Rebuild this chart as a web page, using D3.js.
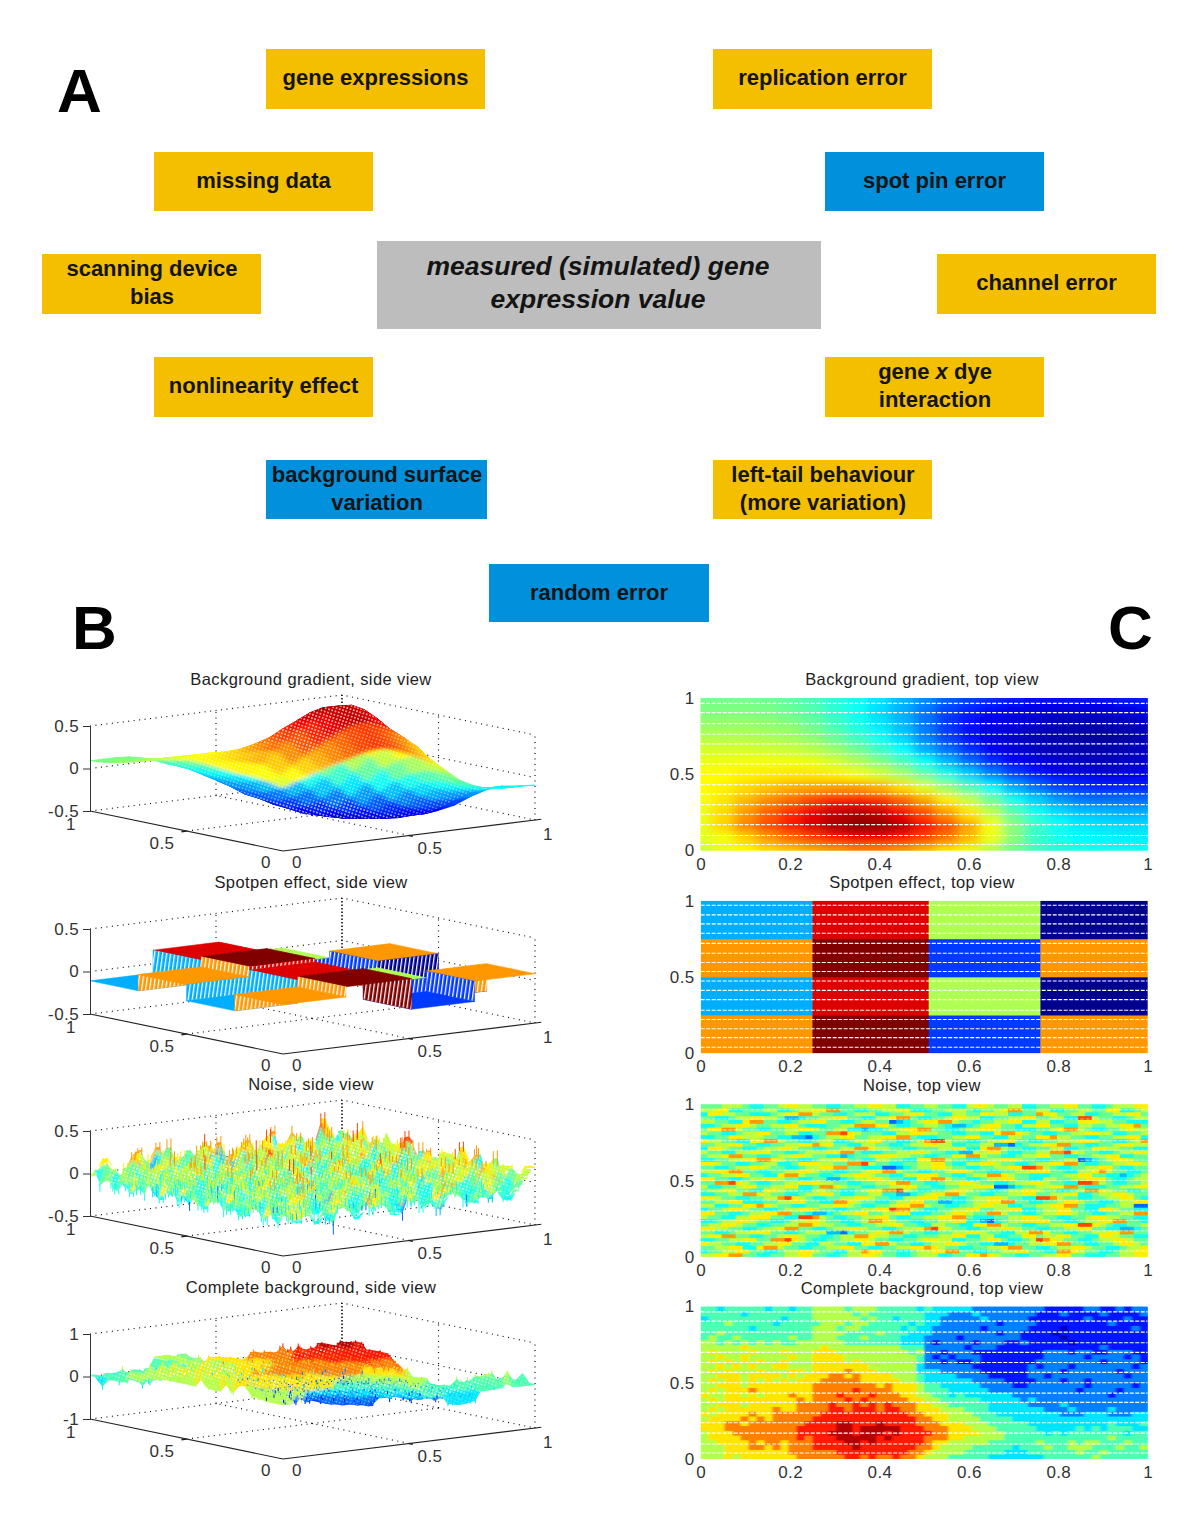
<!DOCTYPE html>
<html lang="en">
<head>
<meta charset="UTF-8">
<title>Simulated gene expression background</title>
<script src="https://d3js.org/d3.v7.min.js"></script>
<style>
  html, body { margin: 0; padding: 0; background: #fff; }
  svg { display: block; font-family: "Liberation Sans", Arial, sans-serif; }
  .tick-label { font-size: 17px; fill: #333; letter-spacing: 0.4px; }
  .plot-title { font-size: 16.5px; fill: #222; letter-spacing: 0.4px; text-anchor: middle; }
  .axis text { font-size: 17px; fill: #333; letter-spacing: 0.4px; font-family: "Liberation Sans", Arial, sans-serif; }
  .node-text { font-size: 22px; font-weight: bold; fill: #141414; text-anchor: middle; }
  .panel-letter { font-size: 62px; font-weight: bold; fill: #000; }
</style>
</head>
<body>
<div id="chart"></div>
<script>
// ---- panel A content
const nodeLines = [
  ["gene expressions"], ["replication error"], ["missing data"], ["spot pin error"],
  ["scanning device", "bias"], ["channel error"], ["nonlinearity effect"],
  ["gene x dye", "interaction"], ["background surface", "variation"],
  ["left-tail behaviour", "(more variation)"], ["random error"]
];
const nodeKinds = ["y", "y", "y", "b", "y", "y", "y", "y", "b", "y", "b"];
const centreLines = ["measured (simulated) gene", "expression value"];
const sideTitles = ["Background gradient, side view", "Spotpen effect, side view", "Noise, side view", "Complete background, side view"];
const topTitles = ["Background gradient, top view", "Spotpen effect, top view", "Noise, top view", "Complete background, top view"];

// ---- tick labels
const topXTicks = [0, 0.2, 0.4, 0.6, 0.8, 1];
const topYTicks = [0, 0.5, 1];
const floorTicks = [0, 0.5, 1];
const zTicksSmall = [-0.5, 0, 0.5];
const zTicksLarge = [-1, 0, 1];

// ---- background gradient, read from the top view. rows y=0 upward, columns x=0..1 step .05
const gradientRows = [
  [.24,.30,.34,.40,.44,.48,.52,.56,.56,.52,.46,.38,.30,.20,.08,0,-.05,-.07,-.08,-.08,-.09],
  [.28,.32,.42,.52,.60,.68,.76,.82,.82,.76,.68,.58,.46,.30,.12,-.02,-.08,-.12,-.13,-.14,-.14],
  [.30,.42,.56,.66,.78,.86,.95,1.0,.99,.92,.80,.66,.50,.32,.12,-.02,-.10,-.15,-.17,-.18,-.18],
  [.30,.40,.52,.62,.72,.83,.90,.94,.90,.80,.66,.52,.38,.22,.04,-.08,-.17,-.22,-.24,-.26,-.26],
  [.32,.38,.46,.54,.60,.68,.74,.76,.72,.62,.50,.37,.24,.08,-.08,-.20,-.30,-.36,-.38,-.38,-.38],
  [.34,.36,.40,.44,.48,.50,.52,.52,.48,.40,.28,.15,.02,-.12,-.26,-.38,-.46,-.50,-.52,-.52,-.52],
  [.34,.34,.36,.37,.38,.38,.36,.32,.26,.18,.06,-.06,-.20,-.34,-.46,-.54,-.60,-.62,-.64,-.64,-.62],
  [.30,.31,.32,.32,.31,.30,.26,.20,.12,.02,-.10,-.24,-.38,-.50,-.58,-.64,-.68,-.70,-.71,-.70,-.68],
  [.26,.26,.26,.25,.24,.21,.15,.08,-.02,-.12,-.26,-.38,-.50,-.60,-.66,-.70,-.72,-.74,-.74,-.72,-.70],
  [.20,.20,.20,.19,.17,.13,.06,-.02,-.10,-.20,-.34,-.46,-.56,-.64,-.68,-.72,-.74,-.76,-.78,-.76,-.72],
  [.15,.15,.15,.14,.12,.07,0,-.08,-.16,-.24,-.36,-.48,-.56,-.62,-.66,-.70,-.72,-.74,-.74,-.72,-.70],
  [.11,.11,.11,.10,.07,.03,-.04,-.10,-.18,-.26,-.36,-.46,-.52,-.58,-.62,-.64,-.66,-.66,-.66,-.64,-.62],
  [.09,.09,.09,.08,.05,.01,-.05,-.10,-.16,-.24,-.32,-.40,-.46,-.50,-.54,-.56,-.56,-.56,-.56,-.54,-.52]
];

// ---- spot pin effect: 4 x 4 blocks, rows y=0 upward
const spotXEdges = [0, 0.25, 0.51, 0.76, 1];
const spotYEdges = [0, 0.25, 0.5, 0.75, 1];
const spotRows = [
  [0.08, 0.2, -0.16, 0.08],
  [-0.11, 0.16, 0.0, -0.24],
  [0.08, 0.2, -0.16, 0.08],
  [-0.11, 0.16, 0.0, -0.24]
];

const noiseLevels = [
  "44455543 34456655 44334455 66553344 55443356 65445533 44556644 33455566",
  "55663344 45533455 66774433 44556633 34455543 44567744 55334455 44663345",
  "36655443 33456677 54433455 53344566 44335544 66553344 76644553 34455664",
  "44334556 65542234 45566443 35567743 34456655 33445566 44553388 54433455",
  "55443367 74433455 66443345 54412345 66775443 44556633 55334466 65544333",
  "33455665 44556643 33445577 76643344 55432234 56644355 66443355 44556674",
  "46677544 33445566 54455332 33455667 74433455 66544333 44567754 33445655",
  "54433455 66445533 44778654 44335566 55443344 33677654 43344556 65533445",
  "33446655 54433221 34556644 55667743 33445566 44335544 66755443 34455663",
  "65544336 67754433 45533455 66443345 78854433 45566443 34455566 54433457",
  "44556644 33445566 76644335 54433455 66553344 55221345 56677443 34456655",
  "36654433 45566544 33445577 65544334 44556633 67754433 44553344 66554433",
  "54433556 66443345 55667743 33445566 54433225 56643344 55778654 43345566",
  "45567744 33455665 44332344 56665544 33446677 54433455 66443344 55663344",
  "33445566 77654433 45566443 35544336 67754433 45566544 33445512 34566544",
  "66544334 45533466 65544778 54433445 56643355 66544334 55667743 34455665",
  "44334556 65443345 56677443 33112345 56654433 44556688 75433445 56643344",
  "55667744 33445566 54433445 66775443 34456654 43344556 66443355 67544334",
  "34455664 43367754 43345566 54433556 66443345 57765443 33445566 44332345",
  "66443345 56654433 44223455 66544336 67754433 45566443 35544556 66433455",
  "44778654 33445566 65544334 45567744 33455665 44334556 65443388 75433445",
  "53344566 44556633 47765443 34455664 43344556 66112344 55667743 33445566",
  "45566443 36654433 55443345 66778543 34456654 43345566 54433457 76544334",
  "33445577 65443345 56643344 55332234 56677544 33445566 44556633 45566544",
  "66544334 45578654 33445566 54433556 66443345 56654433 88754433 44556643",
  "44556633 34455664 43377654 43345566 44223345 56677443 34456654 43345566",
  "55334466 76544334 45566543 34456677 54433445 66553344 55667743 33445511",
  "34456654 43345566 54433445 56687754 33445566 44556633 45566443 36654433",
  "66443345 56677443 22345566 44556633 34456654 47754433 45566544 33445577",
  "54433556 66443388 75433445 56643344 55667743 33445566 54433445 66554433",
  "33455665 44334556 65443345 77654433 44556633 21345566 66443345 56677443",
  "45566544 33445577 65544334 45566443 35544336 67754433 44556688 65433445",
  "66554433 45567744 33455665 44334556 78654433 45566544 33445566 44332234",
  "44334556 66443345 55221344 56677544 33445566 54433557 76443344 55667744",
  "56677443 34456654 43345577 65544334 44556633 55334466 45566443 36654433",
  "33445566 44778654 33445566 54433445 66553344 56643345 87654433 45566544",
  "65544334 45566443 35544336 67754433 45566544 33223445 56677443 34456654",
  "44556633 67754433 44556644 33445566 76544334 45567744 33455665 44334556",
  "34455664 43345566 54433557 66443345 56677443 34455664 43377654 43345566",
  "55667744 33445566 44334556 65443345 55334466 76544334 45566443 33445566"
];

const completeLevels = [
  "44344444 34434455 55455544 44434333 33222222 22211111 22112122",
  "44444344 44444455 55545444 44443332 22322222 22111211 11211112",
  "34444444 44344455 55554544 34443322 22232222 21111111 21111211",
  "44454444 43444445 55455444 44343322 22222122 22111111 11121111",
  "44444434 44444455 54554444 43433222 22212222 21111011 11111121",
  "44544444 44444455 55444454 44333222 22222122 11110111 11111111",
  "45445444 44454455 54445444 43332222 12222222 11111011 11111111",
  "55454545 45445555 55444444 43332122 22122211 21111101 11111111",
  "55555655 55555556 55555555 54442222 21222111 11111111 11211111",
  "56555565 55655566 65555555 55452212 22111111 11122212 21122211",
  "55655655 55565566 66555555 55542121 22211111 11122222 12222121",
  "56565656 55655566 66565555 55542212 11211111 11222222 22122221",
  "55656565 56655566 66666555 55532222 22111111 12122212 22222212",
  "56565556 55566566 66766655 55533322 22211111 12222122 22221222",
  "55666566 66565666 77676666 55543333 22221111 12212222 22222122",
  "56566565 65656667 77776666 65543333 33222211 11222122 12222222",
  "55666566 66666677 77777767 66654433 33322221 12222222 12222212",
  "56566676 66666677 77787777 66654443 33332222 22222221 22221222",
  "65566565 66676677 78777877 76655443 43333332 22222222 22212222",
  "56566666 66667677 77878777 77665544 44433333 23222222 22222222",
  "55666566 66667777 87787878 77766554 44443333 32222322 22222222",
  "56566666 67667777 88788878 87766655 54443333 33322232 22232222",
  "65666676 67777778 88888888 88776665 55444333 33333222 33322233",
  "56666767 67777788 88888888 88877665 55544443 33333333 33333333",
  "66677677 77777888 89988898 88877766 65554444 43333333 33343334",
  "66677777 77778888 89989999 98887776 66555444 44333334 34344433",
  "56667777 77778888 99989998 98888776 66655544 44434344 44444344",
  "56666777 77778788 89999989 88887776 65555544 44444444 44454444",
  "55666676 77677788 88998988 88887665 55554444 44544454 55444544",
  "55566677 67677788 88898888 88877655 55444443 44454455 54445445",
  "55566666 66677777 78888888 88776555 54444433 34444445 44544444",
  "55565666 66667777 77887877 87765554 44443333 33344444 45444444"
];

const panelLetters = ["A", "B", "C"];

// ---- layout
const width = 1200, height = 1530;
const nodeBoxes = [
  [266, 49, 219, 60], [713, 49, 219, 60], [154, 152, 219, 59], [825, 152, 219, 59],
  [42, 254, 219, 60], [937, 254, 219, 60], [154, 357, 219, 60], [825, 357, 219, 60],
  [266, 460, 221, 59], [713, 460, 219, 59], [489, 564, 220, 58]
];
const nodeColor = { y: "#f3bf00", b: "#0090dc" };

// the corners of the floor of the first side view
const cornerL = [90, 811], cornerF = [283, 851], cornerR = [535, 820];
const sideOffsets = [0, 203, 405, 608];
const topOffsets = [698, 900.7, 1104.3, 1306.5];
const topHeight = 152.5;
const topX = d3.scaleLinear().domain([0, 1]).range([700.7, 1147.7]);

const dashFractions = [.965, .904, .832, .762, .699, .633, .568, .50, .432, .371, .301, .238, .170, .098, .039];
const dashFractionsSpot = [.97, .907, .848, .787, .72, .655, .595, .536, .473, .412, .351, .282, .221, .16, .102, .039];

// jet colour map
const jet = d3.scaleLinear()
  .domain([0, .125, .375, .625, .875, 1])
  .range(["#00008f", "#0000ff", "#00ffff", "#ffff00", "#ff0000", "#800000"])
  .clamp(true);
const colorFor = (lo, hi) => {
  const t = d3.scaleLinear().domain([lo, hi]);
  return v => jet(t(v));
};

// levels to grids, rows y=0 first
const parseLevels = (rows, toValue) => rows.slice().reverse()
  .map(r => Array.from(r.replace(/ /g, ""), c => toValue(+c)));
const noiseGrid = parseLevels(noiseLevels, d => (d - 4.5) * 0.12);
const completeGrid = parseLevels(completeLevels, d => (d + 0.5) * 0.25 - 1.1);

const gradientColor = colorFor(-0.8, 1.02);
const spotColor = colorFor(-0.24, 0.2);
const noiseColor = colorFor(-0.75, 0.7);
const completeColor = colorFor(-1.1, 1.4);

const svg = d3.select("#chart").append("svg").attr("width", width).attr("height", height);
const defs = svg.append("defs");

defs.append("filter").attr("id", "smooth").attr("x", "-5%").attr("y", "-10%").attr("width", "110%").attr("height", "120%")
  .append("feGaussianBlur").attr("stdDeviation", "6 4");
defs.append("filter").attr("id", "soft")
  .append("feGaussianBlur").attr("stdDeviation", "0.5");
defs.append("filter").attr("id", "softer")
  .append("feGaussianBlur").attr("stdDeviation", "1.2 0.6");

// blur the colours but keep the outline of the surface sharp
function outlineFilter(id, dev) {
  const f = defs.append("filter").attr("id", id)
    .attr("x", "-5%").attr("y", "-10%").attr("width", "110%").attr("height", "120%");
  f.append("feGaussianBlur").attr("in", "SourceGraphic").attr("stdDeviation", dev).attr("result", "b");
  f.append("feComposite").attr("in", "b").attr("in2", "SourceAlpha").attr("operator", "in").attr("result", "c");
  const merge = f.append("feMerge");
  merge.append("feMergeNode").attr("in", "SourceGraphic");
  merge.append("feMergeNode").attr("in", "c");
}
outlineFilter("surfaceSoft", "3.5 1.6");
outlineFilter("surfaceGrain", "1.6 0.8");

const specks = defs.append("pattern").attr("id", "specks").attr("patternUnits", "userSpaceOnUse")
  .attr("width", 3.4).attr("height", 3.4).attr("patternTransform", "rotate(18)");
specks.append("circle").attr("cx", 1.7).attr("cy", 1.7).attr("r", 0.62).attr("fill", "#fff");

const stripes = defs.append("pattern").attr("id", "stripes").attr("patternUnits", "userSpaceOnUse")
  .attr("width", 4).attr("height", 8).attr("patternTransform", "skewX(-8)");
stripes.append("rect").attr("x", 0).attr("y", 0).attr("width", 1.3).attr("height", 8).attr("fill", "#fff");

// ---- panel A
const nodes = svg.append("g");
nodeBoxes.forEach((b, i) => {
  nodes.append("rect").attr("x", b[0]).attr("y", b[1]).attr("width", b[2]).attr("height", b[3])
    .attr("fill", nodeColor[nodeKinds[i]]);
  const lines = nodeLines[i];
  const cx = b[0] + b[2] / 2 + (lines.length > 1 ? 0.5 : 0);
  const ys = lines.length === 1 ? [b[1] + 35.5] : [b[1] + 22, b[1] + 50];
  lines.forEach((line, k) => {
    const t = nodes.append("text").attr("class", "node-text").attr("x", cx).attr("y", ys[k]);
    if (line === "gene x dye") {
      t.append("tspan").text("gene ");
      t.append("tspan").attr("font-style", "italic").text("x");
      t.append("tspan").text(" dye");
    } else {
      t.text(line);
    }
  });
});
nodes.append("rect").attr("x", 377).attr("y", 241).attr("width", 444).attr("height", 88).attr("fill", "#bdbdbd");
centreLines.forEach((line, k) => {
  nodes.append("text").attr("class", "node-text").attr("x", 598).attr("y", 275 + k * 33)
    .attr("font-style", "italic").style("font-size", "26.5px").text(line);
});
[[57, 112], [72, 649], [1108, 649]].forEach((p, i) => {
  svg.append("text").attr("class", "panel-letter").attr("x", p[0]).attr("y", p[1]).text(panelLetters[i]);
});

// ---- panel B helpers
const projector = (dy, zLo, zHi) => (x, y, z) => {
  const px = cornerF[0] + x * (cornerR[0] - cornerF[0]) + y * (cornerL[0] - cornerF[0]);
  const py = cornerF[1] + dy + x * (cornerR[1] - cornerF[1]) + y * (cornerL[1] - cornerF[1]);
  return [px, py - (z - zLo) / (zHi - zLo) * 85];
};
const poly = pts => pts.map(p => p.join(",")).join(" ");

function drawBox(g, project, zLo, zMid, zHi) {
  const dotted = (pts, dash, w) => g.append("polyline").attr("points", poly(pts)).attr("fill", "none")
    .attr("stroke", "#111").attr("stroke-width", w || 1.2).attr("stroke-dasharray", dash || "1 4.5");
  // back walls and floor
  dotted([project(0, 1, zHi), project(1, 1, zHi), project(1, 0, zHi)]);
  dotted([project(0, 1, zMid), project(1, 1, zMid), project(1, 0, zMid)]);
  dotted([project(0, 1, zLo), project(1, 1, zLo), project(1, 0, zLo)]);
  dotted([project(1, 1, zLo), project(1, 1, zHi)], "1.5 2", 1.6);
  dotted([project(1, 0, zLo), project(1, 0, zHi)]);
  dotted([project(0.5, 1, zLo), project(0.5, 1, zHi)]);
  dotted([project(1, 0.5, zLo), project(1, 0.5, zHi)]);
  dotted([project(0.5, 0, zLo), project(0.5, 1, zLo)]);
  dotted([project(0, 0.5, zLo), project(1, 0.5, zLo)]);
}

function drawAxes(g, dy, project, zLo, zHi, zTicks) {
  const line = (a, b, w) => g.append("line").attr("x1", a[0]).attr("y1", a[1]).attr("x2", b[0]).attr("y2", b[1])
    .attr("stroke", "#222").attr("stroke-width", w || 1.1);
  line(project(0, 1, zLo), project(0, 0, zLo));
  line(project(0, 0, zLo), project(1.025, 0, zLo));
  // vertical axis through a real d3 axis
  const zScale = d3.scaleLinear().domain([zLo, zHi]).range([project(0, 1, zLo)[1], project(0, 1, zHi)[1]]);
  const zAxis = g.append("g").attr("class", "axis").attr("transform", `translate(${cornerL[0]},0)`)
    .call(d3.axisLeft(zScale).tickValues(zTicks).tickSize(7).tickPadding(4).tickFormat(d => String(d)));
  zAxis.selectAll("path,line").attr("stroke", "#333");
  zAxis.selectAll("text").attr("fill", "#333");
  // floor tick labels
  const yLabelAt = [[266, 862], [162, 843], [71, 824]];
  const xLabelAt = [[297, 862], [430, 848], [548, 834]];
  floorTicks.forEach((v, i) => {
    g.append("text").attr("class", "tick-label").attr("text-anchor", "middle")
      .attr("x", yLabelAt[i][0]).attr("y", yLabelAt[i][1] + dy + 6).text(v);
    g.append("text").attr("class", "tick-label").attr("text-anchor", "middle")
      .attr("x", xLabelAt[i][0]).attr("y", xLabelAt[i][1] + dy + 6).text(v);
  });
  // small floor ticks at 0.5
  line(project(0.5, 0, zLo), project(0.5, -0.02, zLo), 1.6);
  line(project(0, 0.5, zLo), project(-0.02, 0.5, zLo), 1.6);
}

// smooth surface from a value grid, back to front
function drawSurface(g, grid, project, color, strokeWidth) {
  const ny = grid.length, nx = grid[0].length;
  for (let i = nx - 2; i >= 0; i--) {
    for (let j = ny - 2; j >= 0; j--) {
      const x0 = i / (nx - 1), x1 = (i + 1) / (nx - 1), y0 = j / (ny - 1), y1 = (j + 1) / (ny - 1);
      const c = color((grid[j][i] + grid[j][i + 1] + grid[j + 1][i] + grid[j + 1][i + 1]) / 4);
      g.append("polygon").attr("points", poly([
        project(x0, y0, grid[j][i]), project(x1, y0, grid[j][i + 1]),
        project(x1, y1, grid[j + 1][i + 1]), project(x0, y1, grid[j + 1][i])
      ])).attr("fill", c).attr("stroke", c).attr("stroke-width", strokeWidth);
    }
  }
}

// noisy surfaces: flattened filled cells, white specks, then a thin stem at each vertex
function drawSpikySurface(g, grid, project, color, flat, reach) {
  const ny = grid.length, nx = grid[0].length;
  const cells = g.append("g").attr("filter", "url(#surfaceGrain)");
  const over = g.append("g");
  const stems = g.append("g");
  // flat pulls the cell corners toward the mean of their four values
  for (let i = nx - 2; i >= 0; i--) {
    for (let j = ny - 2; j >= 0; j--) {
      const x0 = i / (nx - 1), x1 = (i + 1) / (nx - 1), y0 = j / (ny - 1), y1 = (j + 1) / (ny - 1);
      const v = grid[j][i];
      const m = (v + grid[j][i + 1] + grid[j + 1][i] + grid[j + 1][i + 1]) / 4;
      const z = w => m + (w - m) * flat;
      const c = color(v);
      const pts = poly([
        project(x0, y0, z(v)), project(x1, y0, z(grid[j][i + 1])),
        project(x1, y1, z(grid[j + 1][i + 1])), project(x0, y1, z(grid[j + 1][i]))
      ]);
      cells.append("polygon").attr("points", pts).attr("fill", c).attr("stroke", c).attr("stroke-width", 0.6);
      over.append("polygon").attr("points", pts).attr("fill", "url(#specks)").attr("fill-opacity", 0.55);
      const a = project(x0, y0, z(v)), b = project(x0, y0, m + (v - m) * reach);
      stems.append("line").attr("x1", a[0]).attr("y1", a[1]).attr("x2", b[0]).attr("y2", b[1])
        .attr("stroke", c).attr("stroke-width", 1);
    }
  }
}

function drawBlocks(g, project) {
  const quad = (pts, c, wall) => {
    g.append("polygon").attr("points", poly(pts)).attr("fill", c).attr("stroke", c).attr("stroke-width", 0.5);
    if (wall) g.append("polygon").attr("points", poly(pts)).attr("fill", "url(#stripes)");
  };
  for (let i = 3; i >= 0; i--) {
    for (let j = 3; j >= 0; j--) {
      const v = spotRows[j][i];
      const x0 = spotXEdges[i], x1 = spotXEdges[i + 1], y0 = spotYEdges[j], y1 = spotYEdges[j + 1];
      quad([project(x0, y0, v), project(x1, y0, v), project(x1, y1, v), project(x0, y1, v)], spotColor(v));
      if (i > 0) {
        const f = spotRows[j][i - 1];
        quad([project(x0, y0, v), project(x0, y1, v), project(x0, y1, f), project(x0, y0, f)], spotColor(f), true);
      }
      if (j > 0) {
        const f = spotRows[j - 1][i];
        quad([project(x0, y0, v), project(x1, y0, v), project(x1, y0, f), project(x0, y0, f)], spotColor(f), true);
      }
    }
  }
}

// ---- panel B
const sideDraw = [
  (g, p) => {
    const soft = g.append("g").attr("filter", "url(#surfaceSoft)");
    drawSurface(soft, gradientRows, p, gradientColor, 0.8);
    const over = g.append("g");
    for (let i = 18; i >= 3; i--) {
      for (let j = 10; j >= 1; j--) {
        const x0 = i / 20, x1 = (i + 1) / 20, y0 = j / 12, y1 = (j + 1) / 12;
        over.append("polygon").attr("points", poly([
          p(x0, y0, gradientRows[j][i]), p(x1, y0, gradientRows[j][i + 1]),
          p(x1, y1, gradientRows[j + 1][i + 1]), p(x0, y1, gradientRows[j + 1][i])
        ])).attr("fill", "url(#specks)");
      }
    }
  },
  (g, p) => drawBlocks(g, p),
  (g, p) => drawSpikySurface(g, noiseGrid, p, noiseColor, 0.55, 1.05),
  (g, p) => drawSpikySurface(g, completeGrid, p, completeColor, 0.7, 1.1)
];

sideOffsets.forEach((dy, k) => {
  const big = k === 3;
  const zLo = big ? -1 : -0.5, zHi = big ? 1 : 0.5;
  const project = projector(dy, zLo, zHi);
  const g = svg.append("g");
  drawBox(g, project, zLo, 0, zHi);
  sideDraw[k](g.append("g"), project);
  drawAxes(g, dy, project, zLo, zHi, big ? zTicksLarge : zTicksSmall);
  g.append("text").attr("class", "plot-title").attr("x", 311).attr("y", 685 + dy).text(sideTitles[k]);
});

// ---- panel C
function drawCells(g, grid, xEdge, yEdge, color) {
  grid.forEach((row, j) => row.forEach((v, i) => {
    g.append("rect").attr("x", xEdge(i)).attr("width", xEdge(i + 1) - xEdge(i) + 0.4)
      .attr("y", yEdge(j + 1)).attr("height", yEdge(j) - yEdge(j + 1) + 0.4)
      .attr("fill", color(v));
  }));
}

topOffsets.forEach((top, k) => {
  const topY = d3.scaleLinear().domain([0, 1]).range([top + topHeight, top]);
  const clipId = "clip" + k;
  defs.append("clipPath").attr("id", clipId).append("rect")
    .attr("x", topX(0)).attr("y", topY(1)).attr("width", topX(1) - topX(0)).attr("height", topHeight);
  const g = svg.append("g").attr("clip-path", `url(#${clipId})`);

  if (k === 0) {
    const xEdge = i => topX((i - 0.5) / 20), yEdge = j => topY((j - 0.5) / 12);
    drawCells(g, gradientRows, xEdge, yEdge, gradientColor);
    drawCells(g.append("g").attr("filter", "url(#smooth)"), gradientRows, xEdge, yEdge, gradientColor);
  } else if (k === 1) {
    drawCells(g, spotRows, i => topX(spotXEdges[i]), j => topY(spotYEdges[j]), spotColor);
  } else {
    const grid = k === 2 ? noiseGrid : completeGrid;
    const nx = grid[0].length, ny = grid.length;
    const xEdge = i => topX(i / nx), yEdge = j => topY(j / ny);
    const cellColor = k === 2 ? noiseColor : completeColor;
    drawCells(g, grid, xEdge, yEdge, cellColor);
    drawCells(g.append("g").attr("filter", `url(#${k === 2 ? "soft" : "softer"})`), grid, xEdge, yEdge, cellColor);
  }

  (k === 1 ? dashFractionsSpot : dashFractions).forEach(f => {
    g.append("line").attr("x1", topX(0)).attr("x2", topX(1)).attr("y1", topY(f)).attr("y2", topY(f))
      .attr("stroke", "#fff").attr("stroke-width", 1.1).attr("stroke-opacity", k === 2 ? 0.55 : 1)
      .attr("stroke-dasharray", "4 1.5");
  });

  const xAxis = svg.append("g").attr("class", "axis").attr("transform", `translate(0,${top + topHeight})`)
    .call(d3.axisBottom(topX).tickValues(topXTicks).tickSize(0).tickPadding(7).tickFormat(d => String(d)));
  const yAxis = svg.append("g").attr("class", "axis").attr("transform", `translate(${topX(0)},0)`)
    .call(d3.axisLeft(topY).tickValues(topYTicks).tickSize(0).tickPadding(6).tickFormat(d => String(d)));
  [xAxis, yAxis].forEach(a => { a.select(".domain").remove(); a.selectAll("text").attr("fill", "#333"); });

  svg.append("text").attr("class", "plot-title").attr("x", 922).attr("y", 685 + top - 698).text(topTitles[k]);
});
</script>
</body>
</html>
